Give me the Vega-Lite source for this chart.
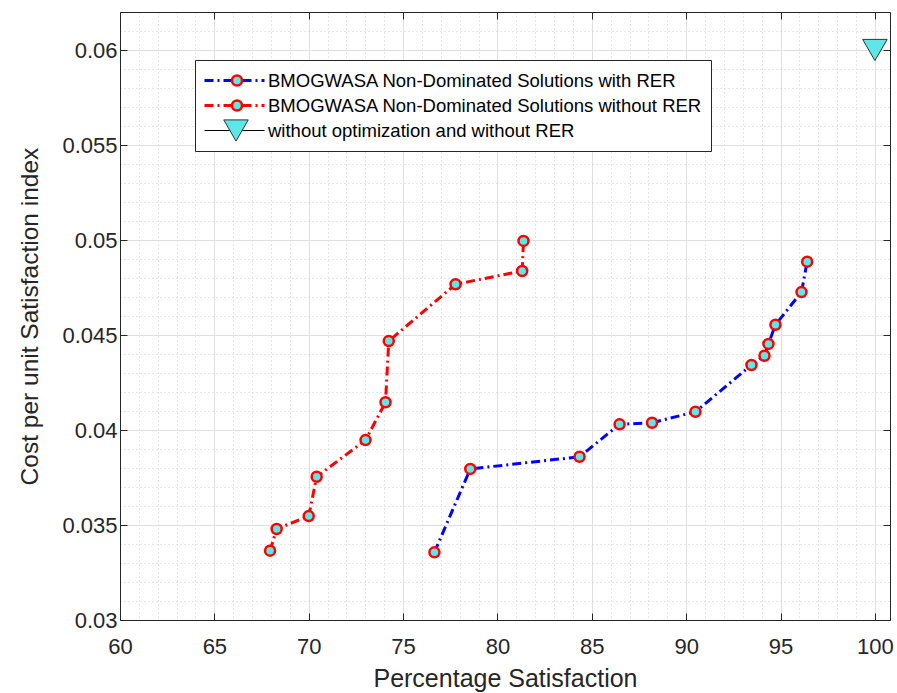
{
  "$schema": "https://vega.github.io/schema/vega-lite/v6.json",
  "autosize": "none",
  "width": 770,
  "height": 608,
  "padding": {"left": 120, "top": 12, "right": 7, "bottom": 73},
  "background": "white",
  "config": {
    "view": {"stroke": null},
    "font": "Liberation Sans",
    "axis": {
      "labelFont": "Liberation Sans",
      "titleFont": "Liberation Sans",
      "labelColor": "#262626",
      "titleColor": "#262626",
      "domainColor": "#262626",
      "tickColor": "#262626",
      "titleFontWeight": "normal"
    }
  },
  "datasets": {
    "pts": [
      {"series": "BMOGWASA Non-Dominated Solutions with RER", "mk": "rer", "ord": 1, "x": 76.66, "y": 0.03356},
      {"series": "BMOGWASA Non-Dominated Solutions with RER", "mk": "rer", "ord": 2, "x": 78.56, "y": 0.03795},
      {"series": "BMOGWASA Non-Dominated Solutions with RER", "mk": "rer", "ord": 3, "x": 84.35, "y": 0.03859},
      {"series": "BMOGWASA Non-Dominated Solutions with RER", "mk": "rer", "ord": 4, "x": 86.47, "y": 0.0403},
      {"series": "BMOGWASA Non-Dominated Solutions with RER", "mk": "rer", "ord": 5, "x": 88.19, "y": 0.04038},
      {"series": "BMOGWASA Non-Dominated Solutions with RER", "mk": "rer", "ord": 6, "x": 90.49, "y": 0.04096},
      {"series": "BMOGWASA Non-Dominated Solutions with RER", "mk": "rer", "ord": 7, "x": 93.46, "y": 0.04342},
      {"series": "BMOGWASA Non-Dominated Solutions with RER", "mk": "rer", "ord": 8, "x": 94.15, "y": 0.04391},
      {"series": "BMOGWASA Non-Dominated Solutions with RER", "mk": "rer", "ord": 9, "x": 94.36, "y": 0.04453},
      {"series": "BMOGWASA Non-Dominated Solutions with RER", "mk": "rer", "ord": 10, "x": 94.73, "y": 0.04554},
      {"series": "BMOGWASA Non-Dominated Solutions with RER", "mk": "rer", "ord": 11, "x": 96.11, "y": 0.04726},
      {"series": "BMOGWASA Non-Dominated Solutions with RER", "mk": "rer", "ord": 12, "x": 96.41, "y": 0.04886},
      {"series": "BMOGWASA Non-Dominated Solutions without RER", "mk": "norer", "ord": 1, "x": 67.95, "y": 0.03365},
      {"series": "BMOGWASA Non-Dominated Solutions without RER", "mk": "norer", "ord": 2, "x": 68.3, "y": 0.03479},
      {"series": "BMOGWASA Non-Dominated Solutions without RER", "mk": "norer", "ord": 3, "x": 70.0, "y": 0.03547},
      {"series": "BMOGWASA Non-Dominated Solutions without RER", "mk": "norer", "ord": 4, "x": 70.42, "y": 0.03754},
      {"series": "BMOGWASA Non-Dominated Solutions without RER", "mk": "norer", "ord": 5, "x": 73.01, "y": 0.03947},
      {"series": "BMOGWASA Non-Dominated Solutions without RER", "mk": "norer", "ord": 6, "x": 74.07, "y": 0.04146},
      {"series": "BMOGWASA Non-Dominated Solutions without RER", "mk": "norer", "ord": 7, "x": 74.24, "y": 0.04468},
      {"series": "BMOGWASA Non-Dominated Solutions without RER", "mk": "norer", "ord": 8, "x": 77.78, "y": 0.04767},
      {"series": "BMOGWASA Non-Dominated Solutions without RER", "mk": "norer", "ord": 9, "x": 81.31, "y": 0.04837},
      {"series": "BMOGWASA Non-Dominated Solutions without RER", "mk": "norer", "ord": 10, "x": 81.38, "y": 0.04995},
      {"series": "without optimization and without RER", "mk": "base", "ord": 1, "x": 100, "y": 0.06}
    ]
  },
  "data": {"name": "pts"},
  "layer": [
    {
      "mark": {"type": "line", "strokeWidth": 3},
      "encoding": {
        "x": {
          "field": "x", "type": "quantitative",
          "scale": {"domain": [60, 100.8], "nice": false, "zero": false},
          "axis": {
            "orient": "bottom",
            "title": "Percentage Satisfaction",
            "titleFontSize": 25,
            "titlePadding": 9,
            "values": [60,61,62,63,64,65,66,67,68,69,70,71,72,73,74,75,76,77,78,79,80,81,82,83,84,85,86,87,88,89,90,91,92,93,94,95,96,97,98,99,100],
            "labelExpr": "datum.value % 5 === 0 ? datum.label : ''",
            "labelFontSize": 22,
            "labelPadding": 23,
            "labelOverlap": false,
            "labelFlush": false,
            "tickSize": -7,
            "tickOpacity": {"condition": {"test": "datum.value % 5 === 0", "value": 1}, "value": 0},
            "grid": true,
            "gridColor": {"condition": {"test": "datum.value % 5 === 0", "value": "#e0e0e0"}, "value": "#cfcfcf"},
            "gridDash": {"condition": {"test": "datum.value % 5 === 0", "value": []}, "value": [1, 3]},
            "domain": true
          }
        },
        "y": {
          "field": "y", "type": "quantitative",
          "scale": {"domain": [0.03, 0.062], "nice": false, "zero": false},
          "axis": {
            "orient": "left",
            "title": "Cost per unit Satisfaction index",
            "titleFontSize": 24.5,
            "titlePadding": 19,
            "values": [0.03,0.031,0.032,0.033,0.034,0.035,0.036,0.037,0.038,0.039,0.04,0.041,0.042,0.043,0.044,0.045,0.046,0.047,0.048,0.049,0.05,0.051,0.052,0.053,0.054,0.055,0.056,0.057,0.058,0.059,0.06,0.061,0.062],
            "format": "~g",
            "labelExpr": "abs(datum.value * 200 - round(datum.value * 200)) < 1e-6 ? datum.label : ''",
            "labelFontSize": 22,
            "labelPadding": 10,
            "labelOverlap": false,
            "labelFlush": false,
            "tickSize": -7,
            "tickOpacity": {"condition": {"test": "abs(datum.value * 200 - round(datum.value * 200)) < 1e-6", "value": 1}, "value": 0},
            "grid": true,
            "gridColor": {"condition": {"test": "abs(datum.value * 200 - round(datum.value * 200)) < 1e-6", "value": "#e0e0e0"}, "value": "#cfcfcf"},
            "gridDash": {"condition": {"test": "abs(datum.value * 200 - round(datum.value * 200)) < 1e-6", "value": []}, "value": [1, 3]},
            "domain": true
          }
        },
        "order": {"field": "ord", "type": "quantitative"},
        "strokeDash": {
          "field": "series", "type": "nominal",
          "scale": {
            "domain": ["BMOGWASA Non-Dominated Solutions with RER", "BMOGWASA Non-Dominated Solutions without RER", "without optimization and without RER"],
            "range": [[9, 4, 2, 4], [9, 4, 2, 4], [1, 0]]
          }
        },
        "color": {
          "field": "series", "type": "nominal",
          "scale": {
            "domain": ["BMOGWASA Non-Dominated Solutions with RER", "BMOGWASA Non-Dominated Solutions without RER", "without optimization and without RER"],
            "range": ["#0000ff", "#ff0000", "#000000"]
          },
          "legend": {
            "title": null,
            "orient": "none",
            "legendX": 75,
            "legendY": 48,
            "direction": "vertical",
            "padding": 8,
            "strokeColor": "#262626",
            "fillColor": "white",
            "zindex": 1,
            "symbolType": "M-1,0H1",
            "symbolSize": 3600,
            "symbolStrokeWidth": 3,
            "clipHeight": 25,
            "rowPadding": 0,
            "labelFont": "Liberation Sans",
            "labelFontSize": 18.5,
            "labelColor": "#000000",
            "labelOffset": 2,
            "labelLimit": 0,
            "encode": {
              "symbols": {
                "update": {
                  "strokeWidth": {"signal": "(datum.value === 'without optimization and without RER' ? 1.2 : 3)"}
                }
              }
            }
          }
        }
      }
    },
    {
      "transform": [{"filter": "datum.mk !== 'base'"}],
      "mark": {"type": "point", "shape": "circle", "filled": true, "fill": "#5fe6e6", "stroke": "#ff0000", "strokeWidth": 2.5, "size": 100, "opacity": 1},
      "encoding": {
        "x": {
          "field": "x", "type": "quantitative",
          "axis": {
            "orient": "top",
            "title": null,
            "values": [60, 65, 70, 75, 80, 85, 90, 95, 100],
            "labels": false,
            "tickSize": -7,
            "grid": false,
            "domain": true
          }
        },
        "y": {
          "field": "y", "type": "quantitative",
          "axis": {
            "orient": "right",
            "title": null,
            "values": [0.03, 0.035, 0.04, 0.045, 0.05, 0.055, 0.06],
            "labels": false,
            "tickSize": -7,
            "grid": false,
            "domain": true
          }
        },
        "shape": {
          "field": "mk", "type": "nominal",
          "scale": {"domain": ["rer", "norer"], "range": ["circle", "circle"]},
          "legend": {
            "title": null,
            "orient": "none",
            "legendX": 100,
            "legendY": 48,
            "direction": "vertical",
            "padding": 8,
            "zindex": 2,
            "symbolSize": 100,
            "symbolStrokeWidth": 2.5,
            "clipHeight": 25,
            "rowPadding": 0,
            "labelExpr": "''",
            "labelFontSize": 18,
            "encode": {
              "symbols": {
                "update": {
                  "fill": {"value": "#5fe6e6"},
                  "fillOpacity": {"value": 1},
                  "stroke": {"value": "#ff0000"},
                  "strokeWidth": {"value": 2.5}
                }
              }
            }
          }
        }
      }
    },
    {
      "transform": [{"filter": "datum.mk === 'base'"}],
      "mark": {"type": "point", "shape": "triangle-down", "filled": true, "fill": "#5fe6e6", "stroke": "#333333", "strokeWidth": 1, "opacity": 1},
      "encoding": {
        "x": {"field": "x", "type": "quantitative", "axis": null},
        "y": {"field": "y", "type": "quantitative", "axis": null},
        "size": {
          "field": "mk", "type": "ordinal",
          "scale": {"domain": ["base"], "range": [600, 600]},
          "legend": {
            "title": null,
            "orient": "none",
            "legendX": 95,
            "legendY": 98,
            "direction": "vertical",
            "padding": 8,
            "zindex": 3,
            "symbolType": "triangle-down",
            "symbolStrokeWidth": 1,
            "clipHeight": 25,
            "rowPadding": 0,
            "labelExpr": "''",
            "labelFontSize": 18,
            "encode": {
              "symbols": {
                "update": {
                  "fill": {"value": "#5fe6e6"},
                  "fillOpacity": {"value": 1},
                  "stroke": {"value": "#333333"},
                  "strokeWidth": {"value": 1}
                }
              }
            }
          }
        }
      }
    }
  ]
}
